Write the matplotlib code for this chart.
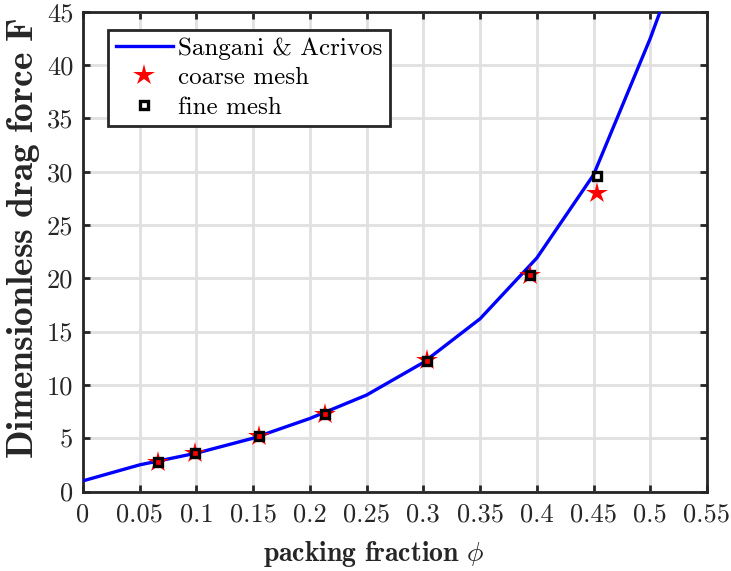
import matplotlib
matplotlib.use("Agg")
import matplotlib.pyplot as plt

# ---- data ----
phi_theory = [0.0, 0.05, 0.10, 0.15, 0.20, 0.25, 0.30, 0.35, 0.40, 0.45, 0.50, 0.52]
F_theory = [1.0, 2.5, 3.6, 5.0, 6.85, 9.05, 12.1, 16.2, 21.9, 29.7, 42.5, 48.3]

phi_coarse = [0.0661, 0.0985, 0.1555, 0.2132, 0.3033, 0.394, 0.4528]
F_coarse = [2.8, 3.6, 5.2, 7.3, 12.3, 20.3, 28.0]

phi_fine = [0.0661, 0.0985, 0.1555, 0.2132, 0.3033, 0.394, 0.4528]
F_fine = [2.8, 3.6, 5.2, 7.3, 12.2, 20.3, 29.6]

xticks = [0, 0.05, 0.1, 0.15, 0.2, 0.25, 0.3, 0.35, 0.4, 0.45, 0.5, 0.55]
xticklabels = ['0', '0.05', '0.1', '0.15', '0.2', '0.25', '0.3', '0.35', '0.4', '0.45', '0.5', '0.55']
yticks = [0, 5, 10, 15, 20, 25, 30, 35, 40, 45]
yticklabels = ['0', '5', '10', '15', '20', '25', '30', '35', '40', '45']

plt.rcParams['font.family'] = 'serif'
plt.rcParams['font.serif'] = ['cmr10', 'DejaVu Serif']
plt.rcParams['mathtext.fontset'] = 'cm'
plt.rcParams['axes.unicode_minus'] = False
plt.rcParams['axes.formatter.use_mathtext'] = True

fig = plt.figure(figsize=(7.31, 5.71), dpi=100)
ax = fig.add_axes([83/731, (571-491.5)/571, 624/731, 479.8/571])

ax.plot(phi_theory, F_theory, color='#0000ff', lw=2.4, label='Sangani & Acrivos', zorder=3, clip_on=True)
ax.plot(phi_coarse, F_coarse, linestyle='none', marker='*', color='#ff0000', markersize=16,
        markeredgewidth=0, label='coarse mesh', zorder=4)
ax.plot(phi_fine, F_fine, linestyle='none', marker='s', markerfacecolor='none', markeredgecolor='black',
        markersize=6, markeredgewidth=2.4, label='fine mesh', zorder=5)

ax.set_xlim(0, 0.55)
ax.set_ylim(0, 45)
ax.set_xticks(xticks)
ax.set_xticklabels(xticklabels)
ax.set_yticks(yticks)
ax.set_yticklabels(yticklabels)

ax.grid(True, color='#e0e0e0', lw=2.0, zorder=0)
ax.set_axisbelow(True)
for s in ax.spines.values():
    s.set_color('#262626')
    s.set_linewidth(2.0)
ax.tick_params(direction='in', length=5, width=2.0, color='#262626', labelsize=19,
               labelcolor='#262626', top=True, right=True)
ax.tick_params(axis='x', pad=8)
ax.tick_params(axis='y', pad=7)

ax.set_xlabel(r'$\mathbf{packing\ fraction}\ \phi$', fontsize=20, color='#262626')
ax.xaxis.set_label_coords(0.465, -0.098)
ax.set_ylabel(r'$\mathbf{Dimensionless\ drag\ force\ F}$', fontsize=27, color='#262626')
ax.yaxis.set_label_coords(-0.066, 0.528)

leg = ax.legend(loc='upper left', bbox_to_anchor=(25/624, 1 - 18/479.8), fontsize=18,
                frameon=True, fancybox=False, handlelength=2.3, borderpad=0.3,
                labelspacing=0.28, handletextpad=0.2, borderaxespad=0)
leg.get_frame().set_edgecolor('#262626')
leg.get_frame().set_linewidth(2.0)
leg.get_frame().set_alpha(1)

fig.savefig('out.png', dpi=100)
